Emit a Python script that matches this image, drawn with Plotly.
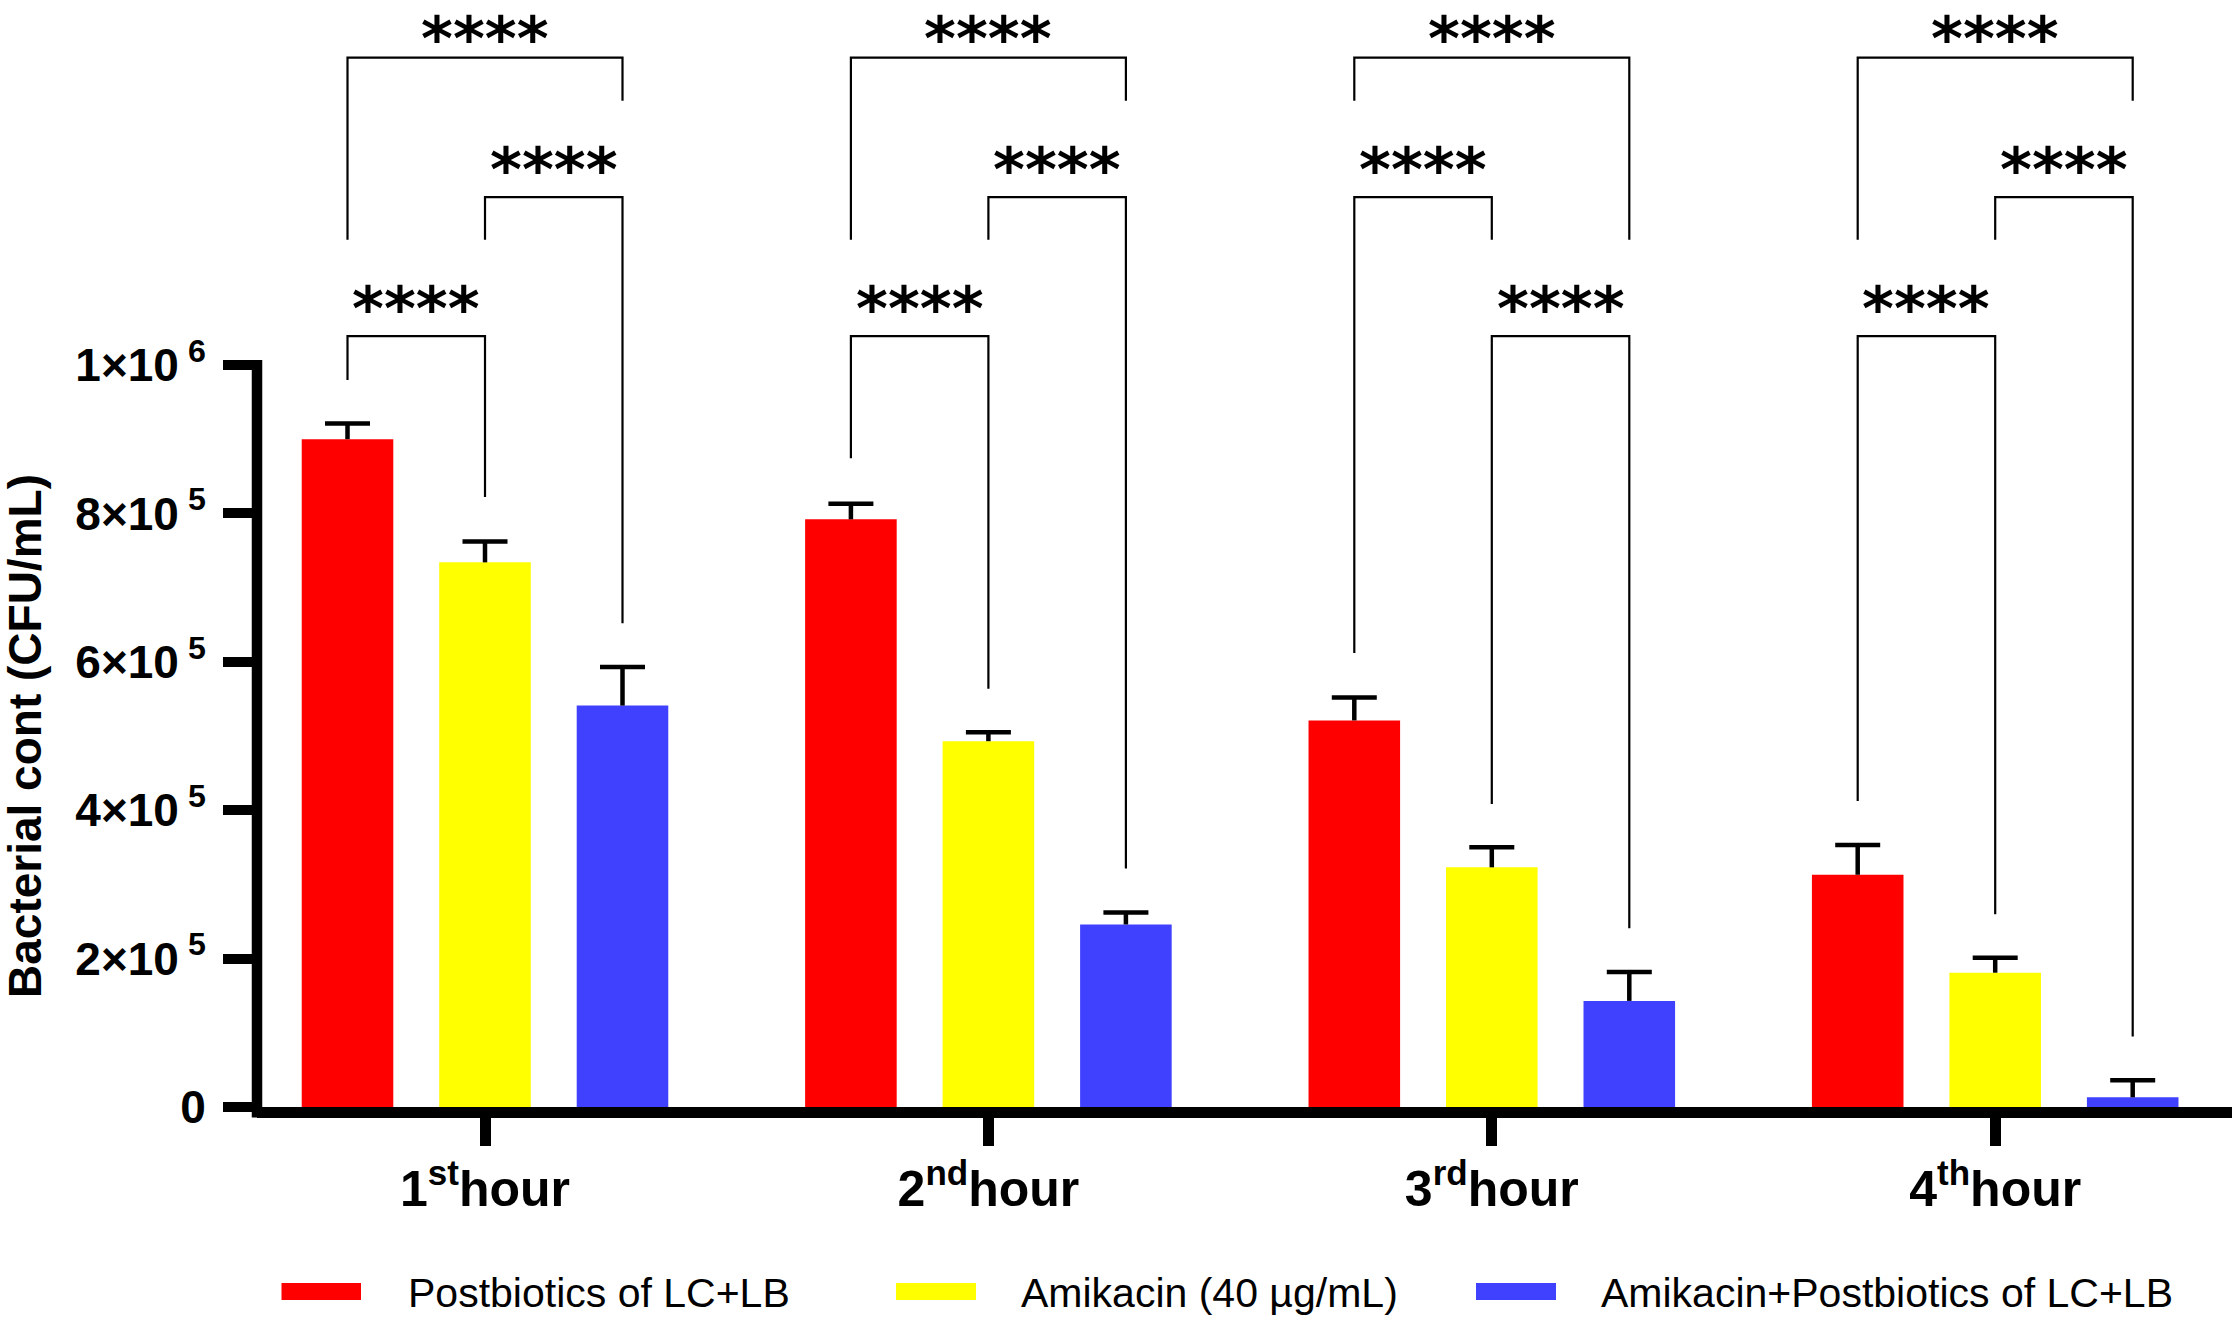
import plotly.graph_objects as go

# Datos (CFU/mL, media y error superior)
hours = ["1<sup>st</sup>hour", "2<sup>nd</sup>hour", "3<sup>rd</sup>hour", "4<sup>th</sup>hour"]
series_names = [
    "Postbiotics of LC+LB",
    "Amikacin (40 µg/mL)",
    "Amikacin+Postbiotics of LC+LB",
]

postbiotics_mean = [900000, 792000, 521000, 313000]
postbiotics_err = [21000, 21000, 31000, 40000]
amikacin_mean = [734000, 493000, 323000, 181000]
amikacin_err = [28000, 12000, 27000, 20000]
combo_mean = [541000, 246000, 143000, 13000]
combo_err = [52000, 16000, 39000, 23000]

y_tick_values = [0, 200000, 400000, 600000, 800000, 1000000]
y_tick_labels = [
    "0",
    "2×10<sup> 5</sup>",
    "4×10<sup> 5</sup>",
    "6×10<sup> 5</sup>",
    "8×10<sup> 5</sup>",
    "1×10<sup> 6</sup>",
]

# comparaciones: (hora, barra a, barra b, altura, fin pata a, fin pata b)
comparisons = [
    (0, 0, 2, 1414300, 1168700, 1356100),
    (0, 1, 2, 1226200, 1168700, 651900),
    (0, 0, 1, 1038800, 979900, 822000),
    (1, 0, 2, 1414300, 1168700, 1356100),
    (1, 1, 2, 1226200, 1168700, 321300),
    (1, 0, 1, 1038800, 874200, 563600),
    (2, 0, 2, 1414300, 1356100, 1168700),
    (2, 0, 1, 1226200, 611800, 1168700),
    (2, 1, 2, 1038800, 408300, 241000),
    (3, 0, 2, 1414300, 1168700, 1356100),
    (3, 1, 2, 1226200, 1168700, 95000),
    (3, 0, 1, 1038800, 412300, 259700),
]
significance = ["****"] * len(comparisons)

# Estilo
colors = ["#FF0000", "#FFFF00", "#4040FF"]
FONT = "Arial, Liberation Sans, sans-serif"
STAR_FONT = "DejaVu Sans, Arial, sans-serif"
W, H = 2236, 1320
M_L, M_R, M_T, M_B = 257, 4, 30, 213
PLOT_W = W - M_L - M_R
PLOT_H = H - M_T - M_B
PX_PER_UNIT = 503.4  # distancia entre grupos
FIRST_GROUP_PX = 485
PX_PER_VALUE = 742 / 1e6
BARGAP = 0.1806
BARGROUPGAP = 0.334
SLOT = (1 - BARGAP) / 3

x_min = (M_L - FIRST_GROUP_PX) / PX_PER_UNIT
x_max = x_min + PLOT_W / PX_PER_UNIT
y_min = 0
y_max = PLOT_H / PX_PER_VALUE
top_level = max(c[3] for c in comparisons)


def paper_x(px):
    return (px - M_L) / PLOT_W


def paper_y(py):
    return (H - M_B - py) / PLOT_H


def bar_x(hour, bar):
    return hour + (bar - 1) * SLOT


fig = go.Figure()

means = [postbiotics_mean, amikacin_mean, combo_mean]
errors = [postbiotics_err, amikacin_err, combo_err]
x_groups = list(range(len(hours)))

for j, (name, m) in enumerate(zip(series_names, means)):
    fig.add_trace(
        go.Bar(
            x=x_groups,
            y=m,
            name=name,
            marker=dict(color=colors[j], line=dict(width=0)),
            showlegend=False,
            hoverinfo="skip",
        )
    )

# Barras de error (solo hacia arriba, estilo Prism)
cap_half = 22.5 / PX_PER_UNIT
for j, (m, e) in enumerate(zip(means, errors)):
    xs, ys = [], []
    for i in x_groups:
        xc = bar_x(i, j)
        top = m[i] + e[i]
        xs += [xc, xc, None, xc - cap_half, xc + cap_half, None]
        ys += [m[i], top, None, top, top, None]
    fig.add_trace(
        go.Scatter(
            x=xs, y=ys, mode="lines",
            line=dict(color="black", width=4.5),
            showlegend=False, hoverinfo="skip",
        )
    )

# Corchetes de significacion
bx, by = [], []
for (h, a, b, level, end_a, end_b) in comparisons:
    xa, xb = bar_x(h, a), bar_x(h, b)
    bx += [xa, xa, xb, xb, None]
    by += [end_a, level, level, end_b, None]
fig.add_trace(
    go.Scatter(
        x=bx, y=by, mode="lines",
        line=dict(color="black", width=2.2),
        showlegend=False, hoverinfo="skip",
    )
)

annotations = []
for (h, a, b, level, _, _), txt in zip(comparisons, significance):
    # la fila de arriba se baja un poco para que no se corte en el borde
    shift = -18 if level == top_level else -10
    annotations.append(
        dict(
            x=(bar_x(h, a) + bar_x(h, b)) / 2,
            y=level,
            xref="x",
            yref="y",
            text=txt,
            showarrow=False,
            xanchor="center",
            yanchor="bottom",
            yshift=shift,
            font=dict(family=STAR_FONT, size=61, color="black", weight="bold"),
        )
    )

# Titulo del eje Y
annotations.append(
    dict(
        x=paper_x(25),
        y=500000,
        xref="paper",
        yref="y",
        text="Bacterial cont (CFU/mL)",
        textangle=-90,
        showarrow=False,
        xanchor="center",
        yanchor="middle",
        font=dict(family=FONT, size=46, color="black", weight="bold"),
    )
)

# Leyenda dibujada a mano (rectangulos anchos como en el original)
swatches = [(281.5, 361), (896, 976), (1476, 1556)]
text_left = [406, 1019, 1599]
shapes = []
for j, name in enumerate(series_names):
    x0, x1 = swatches[j]
    shapes.append(
        dict(
            type="rect", xref="paper", yref="paper",
            x0=paper_x(x0), x1=paper_x(x1),
            y0=paper_y(1300), y1=paper_y(1283),
            fillcolor=colors[j], line=dict(width=0),
        )
    )
    annotations.append(
        dict(
            x=paper_x(text_left[j]),
            y=paper_y(1293),
            xref="paper",
            yref="paper",
            text=name,
            showarrow=False,
            xanchor="left",
            yanchor="middle",
            font=dict(family=FONT, size=41, color="black"),
        )
    )

# Eje Y: linea solo hasta 1x10^6
spine_top = (1e6 - y_min) / (y_max - y_min) + 5 / PLOT_H
shapes.append(
    dict(
        type="line", xref="paper", yref="paper",
        x0=0, x1=0, y0=-10.5 / PLOT_H, y1=spine_top,
        line=dict(color="black", width=10.5),
    )
)

fig.update_layout(
    width=W,
    height=H,
    margin=dict(l=M_L, r=M_R, t=M_T, b=M_B, pad=0),
    plot_bgcolor="white",
    paper_bgcolor="white",
    barmode="group",
    bargap=BARGAP,
    bargroupgap=BARGROUPGAP,
    showlegend=False,
    annotations=annotations,
    shapes=shapes,
    font=dict(family=FONT, color="black"),
)

fig.update_xaxes(
    range=[x_min, x_max],
    tickvals=x_groups,
    ticktext=hours,
    showgrid=False,
    zeroline=False,
    showline=True,
    linecolor="black",
    linewidth=10.5,
    ticks="outside",
    ticklen=28,
    tickwidth=11,
    tickcolor="black",
    tickfont=dict(family=FONT, size=50, color="black", weight="bold"),
)

fig.update_yaxes(
    range=[y_min, y_max],
    tickvals=y_tick_values,
    ticktext=y_tick_labels,
    showgrid=False,
    zeroline=False,
    showline=False,
    ticks="outside",
    ticklen=33,
    tickwidth=10,
    tickcolor="black",
    ticklabelstandoff=8,
    tickfont=dict(family=FONT, size=46, color="black", weight="bold"),
)

fig.write_html(
    "out.html",
    config={"displayModeBar": False},
    post_script="document.body.style.margin='0';",
)
